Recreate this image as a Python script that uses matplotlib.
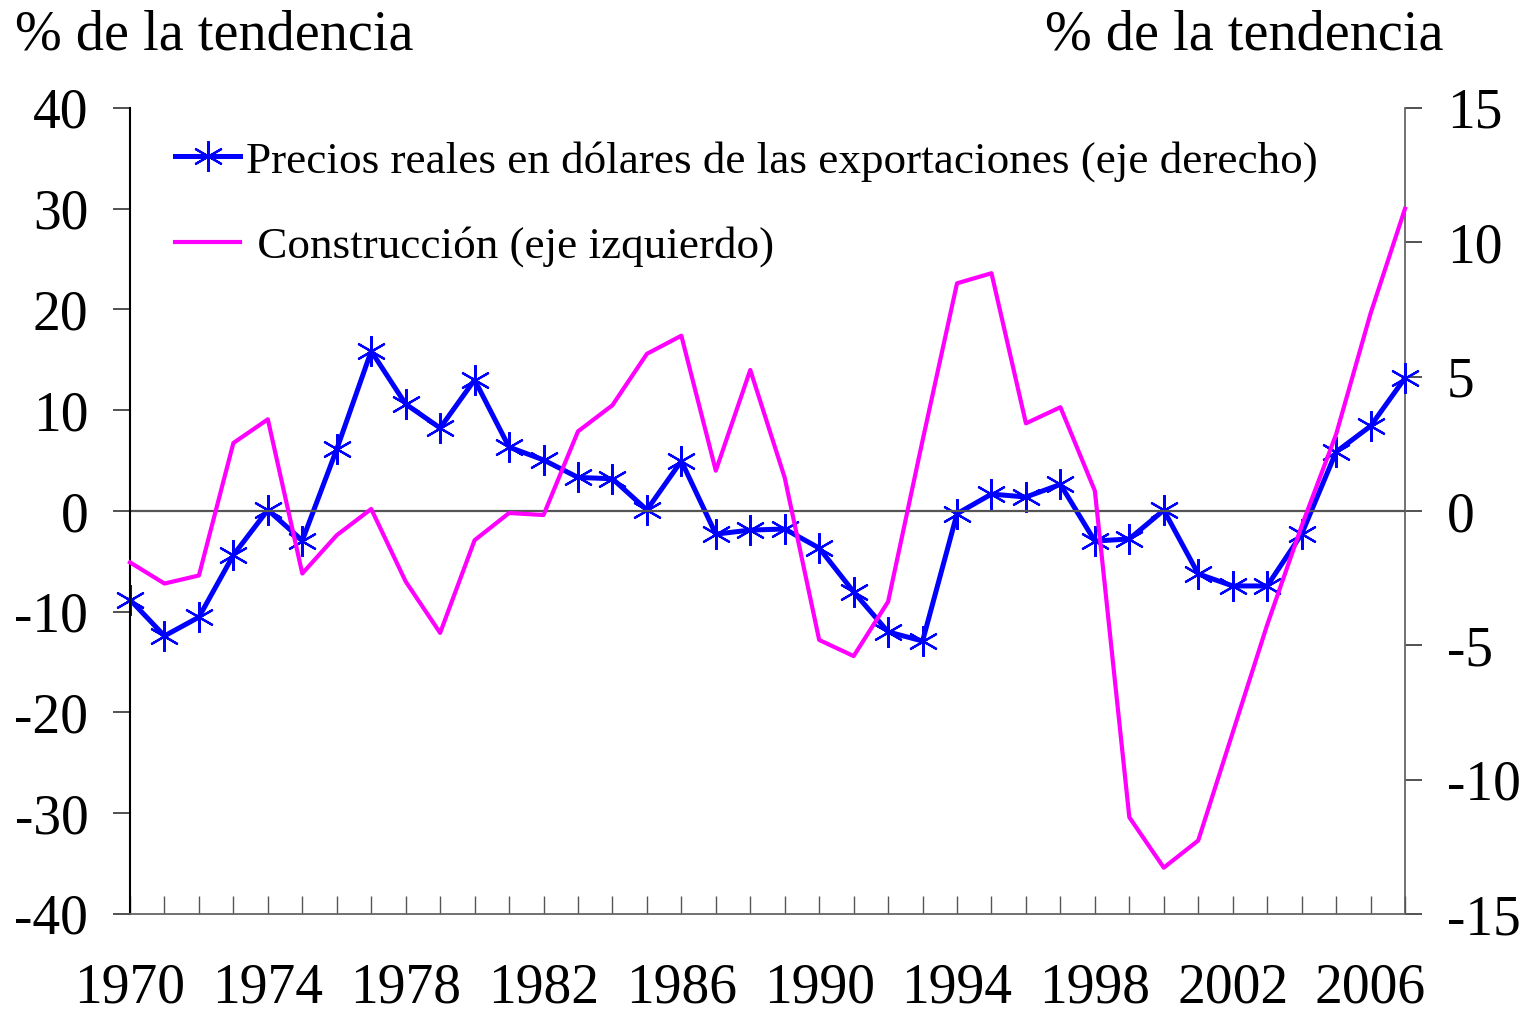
import matplotlib
matplotlib.use("Agg")
import matplotlib.pyplot as plt

plt.rcParams['font.family'] = ['Liberation Serif', 'DejaVu Serif']

years = list(range(1970, 2008))

# precios reales en dolares de las exportaciones (eje derecho)
precios = [-3.3, -4.65, -3.95, -1.64, 0.04, -1.1, 2.3, 5.95, 3.98, 3.09,
           4.88, 2.38, 1.9, 1.25, 1.2, 0.04, 1.86, -0.86, -0.71, -0.67,
           -1.38, -3.01, -4.5, -4.84, -0.1, 0.63, 0.52, 0.99, -1.12, -1.04,
           0.03, -2.34, -2.79, -2.79, -0.86, 2.2, 3.16, 4.95]

# construccion (eje izquierdo)
construccion = [-5.1, -7.2, -6.4, 6.75, 9.1, -6.2, -2.4, 0.2, -7.0, -12.1,
                -2.9, -0.2, -0.4, 7.9, 10.5, 15.6, 17.4, 4.0, 14.0, 3.3,
                -12.8, -14.4, -9.0, 7.0, 22.6, 23.6, 8.7, 10.3, 2.0, -30.4,
                -35.4, -32.7, -22.0, -11.3, -1.5, 7.6, 19.6, 30.0]

left_ticks = [-40, -30, -20, -10, 0, 10, 20, 30, 40]
right_ticks = [-15, -10, -5, 0, 5, 10, 15]
year_labels = list(range(1970, 2007, 4))

fig = plt.figure(figsize=(15.35, 10.21), dpi=100)
ax = fig.add_axes([130/1535, 1-914/1021, 1275/1535, 806/1021])
ax2 = ax.twinx()

ax.axhline(0, color='#555555', lw=1.6, zorder=1)
l2, = ax2.plot(years, precios, color='#0000ff', lw=3.6, marker=(6, 2, 0),
               markersize=22, markeredgewidth=1.6, clip_on=False, zorder=3)
l1, = ax.plot(years, construccion, color='#ff00ff', lw=3.0, zorder=4, clip_on=False)

# magenta on top
ax.set_zorder(ax2.get_zorder() + 1)
ax.patch.set_visible(False)

ax.set_xlim(1970, 2007)
ax.set_ylim(-40, 40)
ax2.set_ylim(-15, 15)

ax.set_yticks(left_ticks)
ax.set_yticklabels([str(t) for t in left_ticks])
ax2.set_yticks(right_ticks)
ax2.set_yticklabels([str(t) for t in right_ticks])

ax.set_xticks(years)
ax.set_xticklabels([str(y) if y in year_labels else '' for y in years])

ax.tick_params(axis='y', direction='out', length=12, width=1.2, labelsize=40, pad=18,
               color='#333333')
ax2.tick_params(axis='y', direction='out', length=12, width=1.2, labelsize=40, pad=18,
                color='#333333')
ax.tick_params(axis='x', direction='in', length=13, width=1.0, labelsize=40, pad=35,
               color='#555555')

for a in (ax, ax2):
    a.spines['top'].set_visible(False)
ax.spines['left'].set_color('black')
ax.spines['left'].set_linewidth(1.5)
ax2.spines['right'].set_color('#666666')
ax2.spines['right'].set_linewidth(1.3)
ax.spines['bottom'].set_color('#666666')
ax.spines['bottom'].set_linewidth(1.3)
ax2.spines['bottom'].set_visible(False)
ax.spines['right'].set_visible(False)
ax2.spines['left'].set_visible(False)

leg = ax.legend([l2, l1],
                ["Precios reales en dólares de las exportaciones (eje derecho)",
                 " Construcción (eje izquierdo)"],
                loc='upper left', bbox_to_anchor=(0.021, 0.982), frameon=False,
                fontsize=32.5, handlelength=1.45, handletextpad=0.12, labelspacing=0.98,
                borderaxespad=0)

fig.text(15/1535, 1-36/1021, "% de la tendencia", fontsize=40.5, va='center', ha='left')
fig.text(1045/1535, 1-36/1021, "% de la tendencia", fontsize=40.5, va='center', ha='left')

fig.savefig("out.png", dpi=100)
